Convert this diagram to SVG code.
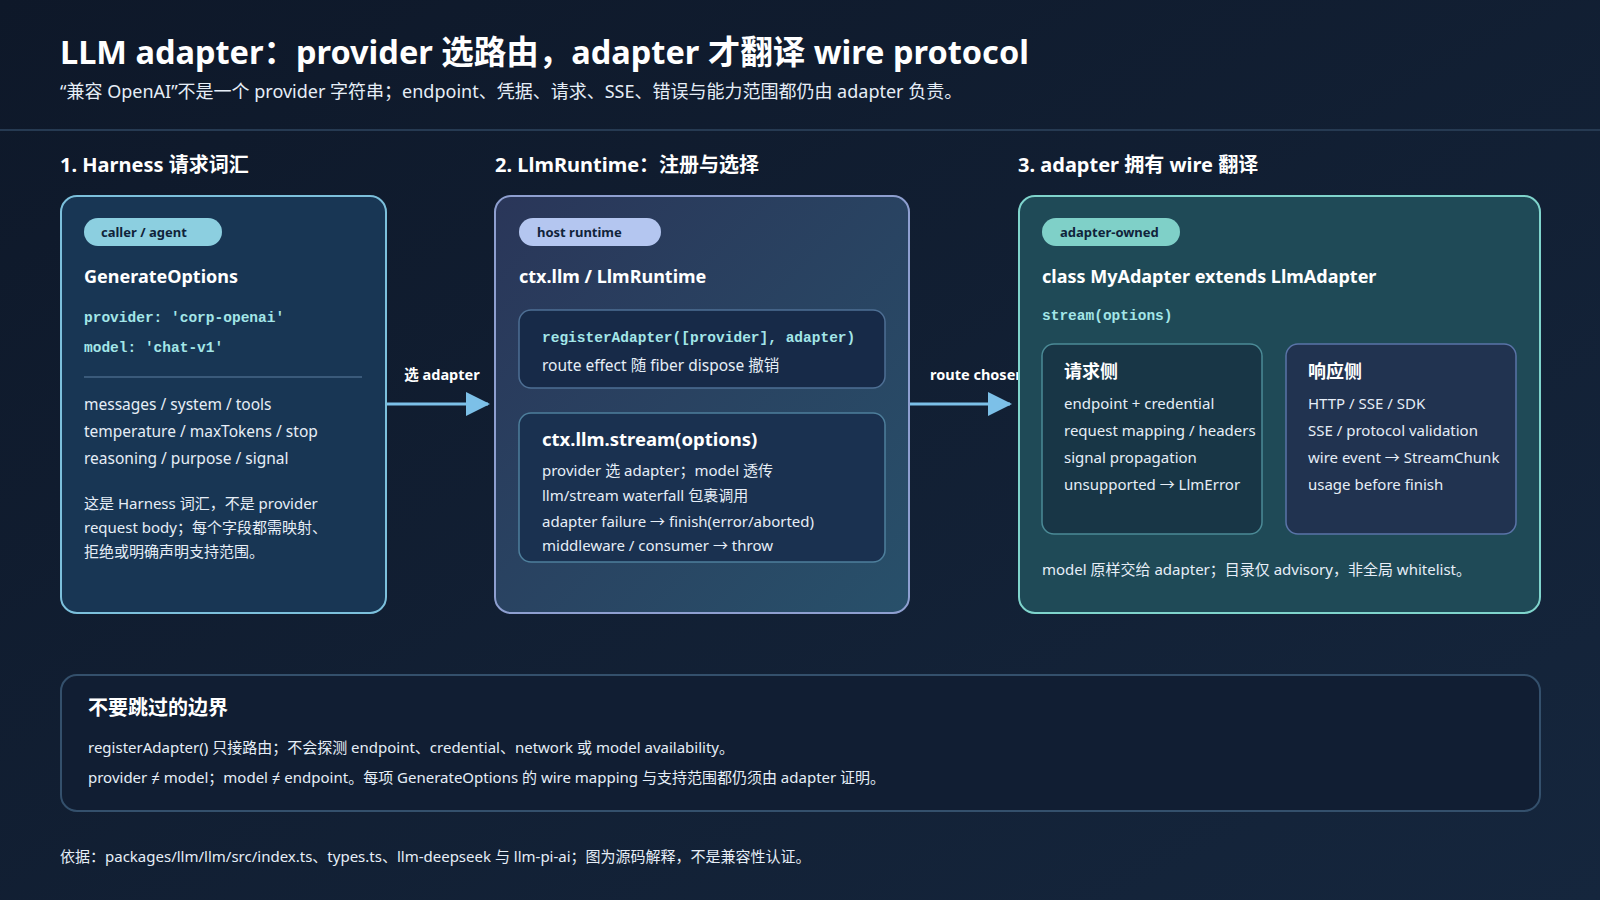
<svg xmlns="http://www.w3.org/2000/svg" width="1600" height="900" viewBox="0 0 1600 900">
<defs>
<linearGradient id="bg" x1="0" y1="0" x2="1" y2="1"><stop offset="0" stop-color="#0e1829"/><stop offset="1" stop-color="#15263d"/></linearGradient>
<linearGradient id="g2" x1="0" y1="0" x2="1" y2="1"><stop offset="0" stop-color="#2a3659"/><stop offset="1" stop-color="#28506a"/></linearGradient>
<marker id="ah" markerWidth="24" markerHeight="24" refX="22" refY="12" orient="auto" markerUnits="userSpaceOnUse" viewBox="0 0 24 24"><path d="M0,0 L24,12 L0,24 z" fill="#7cc0e8"/></marker>
<style>
text{font-family:"Noto Sans","Noto Sans CJK SC",sans-serif;fill:#e6eef7}
.h{font-weight:700;fill:#fff}
.mono{font-family:"Liberation Mono","DejaVu Sans Mono","Noto Sans CJK SC",monospace;font-weight:700;font-size:14.5px;fill:#a3e6e8}
.pill{font-size:13px;font-weight:700;fill:#10233a}
.t16{font-size:15.5px}
.t15{font-size:15px}
.lab{font-size:14.5px;font-weight:700;fill:#fff}
</style>
</defs>
<rect width="1600" height="900" fill="url(#bg)"/>
<text x="60" y="64" class="h" font-size="32.5">LLM adapter：provider 选路由，adapter 才翻译 wire protocol</text>
<text x="60" y="98" font-size="18" fill="#d8e2ee">“兼容 OpenAI”不是一个 provider 字符串；endpoint、凭据、请求、SSE、错误与能力范围都仍由 adapter 负责。</text>
<line x1="0" y1="130" x2="1600" y2="130" stroke="#263a52" stroke-width="2"/>
<text x="60" y="172" class="h" font-size="20">1. Harness 请求词汇</text>
<text x="495" y="172" class="h" font-size="20">2. LlmRuntime：注册与选择</text>
<text x="1018" y="172" class="h" font-size="20">3. adapter 拥有 wire 翻译</text>

<g id="connectors">
<line x1="386" y1="404" x2="488" y2="404" stroke="#7cc0e8" stroke-width="3" marker-end="url(#ah)"/>
<text x="442" y="380" text-anchor="middle" class="lab">选 adapter</text>
<line x1="909" y1="404" x2="1010" y2="404" stroke="#7cc0e8" stroke-width="3" marker-end="url(#ah)"/>
<text x="930" y="380" class="lab">route chosen</text>
</g>

<g id="harness">
<rect x="61" y="196" width="325" height="417" rx="16" fill="#183654" stroke="#7cc0dc" stroke-width="2"/>
<rect x="84" y="218" width="138" height="28" rx="14" fill="#8ccfe0"/>
<text x="101" y="237" class="pill">caller / agent</text>
<text x="84" y="283" class="h" font-size="18">GenerateOptions</text>
<text x="84" y="322" class="mono">provider: 'corp-openai'</text>
<text x="84" y="352" class="mono">model: 'chat-v1'</text>
<line x1="84" y1="377" x2="362" y2="377" stroke="#3a5a7a" stroke-width="2"/>
<text x="84" y="410" class="t16">messages / system / tools</text>
<text x="84" y="437" class="t16">temperature / maxTokens / stop</text>
<text x="84" y="464" class="t16">reasoning / purpose / signal</text>
<text x="84" y="509" class="t15">这是 Harness 词汇，不是 provider</text>
<text x="84" y="533" class="t15">request body；每个字段都需映射、</text>
<text x="84" y="557" class="t15">拒绝或明确声明支持范围。</text>
</g>

<g id="runtime">
<rect x="495" y="196" width="414" height="417" rx="16" fill="url(#g2)" stroke="#8e9fd0" stroke-width="2"/>
<rect x="519" y="218" width="142" height="28" rx="14" fill="#b4c6f0"/>
<text x="537" y="237" class="pill">host runtime</text>
<text x="519" y="283" class="h" font-size="18">ctx.llm / LlmRuntime</text>
<g id="register">
<rect x="519" y="310" width="366" height="78" rx="12" fill="#172a48" stroke="#4e6f94" stroke-width="1.5"/>
<text x="542" y="342" class="mono">registerAdapter([provider], adapter)</text>
<text x="542" y="371" class="t16">route effect 随 fiber dispose 撤销</text>
</g>
<g id="stream">
<rect x="519" y="413" width="366" height="149" rx="12" fill="#1a3150" stroke="#4e7f9c" stroke-width="1.5"/>
<text x="542" y="446" class="h" font-size="18.5">ctx.llm.stream(options)</text>
<text x="542" y="476" class="t15">provider 选 adapter；model 透传</text>
<text x="542" y="501" class="t15">llm/stream waterfall 包裹调用</text>
<text x="542" y="527" class="t15">adapter failure → finish(error/aborted)</text>
<text x="542" y="551" class="t15">middleware / consumer → throw</text>
</g>
</g>

<g id="adapter">
<rect x="1019" y="196" width="521" height="417" rx="16" fill="#1f4a57" stroke="#7fd4cc" stroke-width="2"/>
<rect x="1042" y="218" width="138" height="28" rx="14" fill="#7fd0c8"/>
<text x="1060" y="237" class="pill">adapter-owned</text>
<text x="1042" y="283" class="h" font-size="18">class MyAdapter extends LlmAdapter</text>
<text x="1042" y="320" class="mono">stream(options)</text>
<g id="request">
<rect x="1042" y="344" width="220" height="190" rx="12" fill="#183646" stroke="#4b8a96" stroke-width="1.5"/>
<text x="1064" y="378" class="h" font-size="18">请求侧</text>
<text x="1064" y="409" class="t15">endpoint + credential</text>
<text x="1064" y="436" class="t15">request mapping / headers</text>
<text x="1064" y="463" class="t15">signal propagation</text>
<text x="1064" y="490" class="t15">unsupported → LlmError</text>
</g>
<g id="response">
<rect x="1286" y="344" width="230" height="190" rx="12" fill="#213350" stroke="#5a74a8" stroke-width="1.5"/>
<text x="1308" y="378" class="h" font-size="18">响应侧</text>
<text x="1308" y="409" class="t15">HTTP / SSE / SDK</text>
<text x="1308" y="436" class="t15">SSE / protocol validation</text>
<text x="1308" y="463" class="t15">wire event → StreamChunk</text>
<text x="1308" y="490" class="t15">usage before finish</text>
</g>
<text x="1042" y="575" class="t15">model 原样交给 adapter；目录仅 advisory，非全局 whitelist。</text>
</g>

<g id="boundary">
<rect x="61" y="675" width="1479" height="136" rx="16" fill="#111e33" stroke="#34506c" stroke-width="2"/>
<text x="88" y="715" class="h" font-size="20">不要跳过的边界</text>
<text x="88" y="753" class="t15">registerAdapter() 只接路由；不会探测 endpoint、credential、network 或 model availability。</text>
<text x="88" y="783" class="t15">provider ≠ model；model ≠ endpoint。每项 GenerateOptions 的 wire mapping 与支持范围都仍须由 adapter 证明。</text>
</g>
<text x="60" y="862" class="t15">依据：packages/llm/llm/src/index.ts、types.ts、llm-deepseek 与 llm-pi-ai；图为源码解释，不是兼容性认证。</text>
</svg>
